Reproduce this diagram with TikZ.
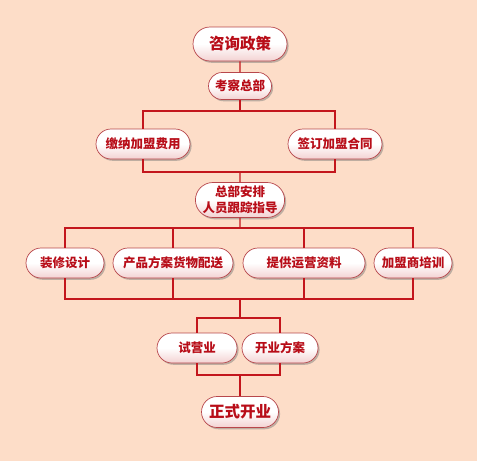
\documentclass[tikz,border=0pt]{standalone}
\usepackage{fontspec}
\setmainfont{Noto Sans CJK SC}[BoldFont={Noto Sans CJK SC Black}]
\usetikzlibrary{shapes.misc,shadows}
\definecolor{bgpeach}{HTML}{FDDDC8}
\definecolor{linered}{HTML}{C3161D}
\definecolor{txtred}{HTML}{B80D18}
\definecolor{boxedge}{HTML}{B8474C}
\definecolor{boxpink}{HTML}{F3D2D2}
\begin{document}
\begin{tikzpicture}[x=1pt, y=-1pt,
	box/.style={rounded rectangle, draw=boxedge, line width=0.7pt,
		top color=white, bottom color=boxpink, middle color=white,
		minimum height=30pt, inner xsep=0pt, text=txtred,
		font=\fontsize{12.5}{16}\selectfont\bfseries,
		drop shadow={shadow xshift=1.6pt, shadow yshift=-1.8pt, fill=black!55, opacity=0.45}},
	big/.style={box, font=\fontsize{15.5}{18}\selectfont\bfseries, minimum height=34pt},
	link/.style={draw=linered, line width=1.2pt}]
	\fill[bgpeach] (0, 0) rectangle (477, 461);

	\node[big, minimum width=94pt] (zixun) at (240, 44) {咨询政策};
	\node[box, minimum width=63pt, minimum height=27pt] (kaocha) at (240, 86) {考察总部};
	\node[box, minimum width=94pt] (jiaona) at (143, 144) {缴纳加盟费用};
	\node[box, minimum width=94pt] (qianding) at (335, 144) {签订加盟合同};
	\node[box, minimum width=89pt, minimum height=35pt, align=center] (anpai) at (240, 200) {总部安排\\人员跟踪指导};

	\node[box, minimum width=78pt] (zhuangxiu) at (65, 263) {装修设计};
	\node[box, minimum width=120pt] (chanpin) at (173, 263) {产品方案货物配送};
	\node[box, minimum width=122pt] (yunying) at (304, 263) {提供运营资料};
	\node[box, minimum width=78pt] (peixun) at (413, 263) {加盟商培训};

	\node[box, minimum width=80pt] (shiying) at (197, 348) {试营业};
	\node[box, minimum width=76pt] (fangan) at (280, 348) {开业方案};
	\node[big, minimum width=77pt, minimum height=31pt] (kaiye) at (240, 412) {正式开业};

	% junctions
	\coordinate (fenA) at (240, 111);
	\coordinate (heA) at (240, 172);
	\coordinate (fenB) at (240, 228);
	\coordinate (heB) at (240, 299);
	\coordinate (fenC) at (240, 318);
	\coordinate (heC) at (240, 375);

	\draw[link] (zixun) -- (kaocha);
	\draw[link] (kaocha) -- (fenA);
	\foreach \n in {jiaona, qianding}
		\draw[link] (fenA) -| (\n) (\n) |- (heA);
	\draw[link] (heA) -- (anpai);
	\draw[link] (anpai) -- (fenB);
	\foreach \n in {zhuangxiu, chanpin, yunying, peixun}
		\draw[link] (fenB) -| (\n) (\n) |- (heB);
	\draw[link] (heB) -- (fenC);
	\foreach \n in {shiying, fangan}
		\draw[link] (fenC) -| (\n) (\n) |- (heC);
	\draw[link] (heC) -- (kaiye);
\end{tikzpicture}
\end{document}
